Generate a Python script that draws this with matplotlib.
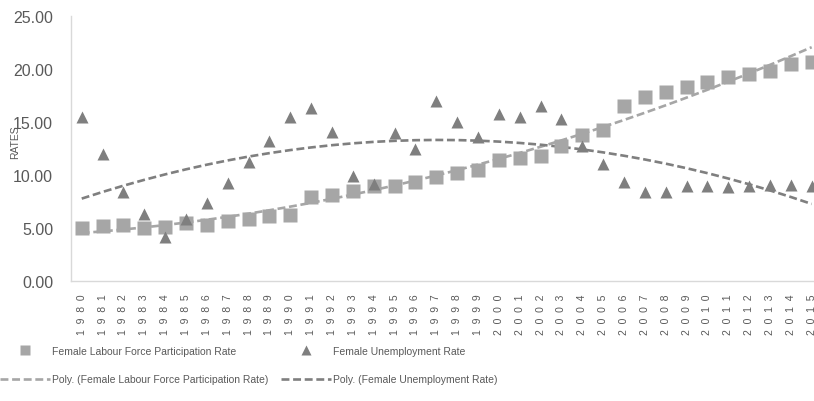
import numpy as np
import matplotlib
matplotlib.use("Agg")
import matplotlib.pyplot as plt
from matplotlib.lines import Line2D

plt.rcParams["font.family"] = ["Liberation Sans", "DejaVu Sans"]

YEARS = list(range(1980, 2016))
LABOUR_RATE = [5.0, 5.2, 5.3, 5.0, 5.1, 5.4, 5.3, 5.6, 5.8, 6.1,
               6.2, 7.9, 8.1, 8.5, 8.9, 8.9, 9.3, 9.8, 10.2, 10.4,
               11.4, 11.6, 11.8, 12.7, 13.7, 14.2, 16.5, 17.3, 17.8, 18.3,
               18.7, 19.2, 19.5, 19.8, 20.4, 20.6]
UNEMP_RATE = [15.4, 12.0, 8.4, 6.3, 4.1, 5.8, 7.3, 9.2, 11.2, 13.2,
              15.4, 16.3, 14.0, 9.9, 9.1, 13.9, 12.4, 17.0, 15.0, 13.6,
              15.7, 15.4, 16.5, 15.3, 12.7, 11.0, 9.3, 8.4, 8.4, 8.9,
              8.9, 8.8, 8.9, 9.0, 9.0, 8.9]
Y_TICKS = [0, 5, 10, 15, 20, 25]

LABOUR_NAME = "Female Labour Force Participation Rate"
UNEMP_NAME = "Female Unemployment Rate"

LIGHT = "#a6a6a6"
DARK = "#7f7f7f"
TEXT = "#595959"
DASH = (0, (3.0, 1.4))


def poly_trend(x, y, order=2):
    coef = np.polyfit(x, y, order)
    return np.polyval(coef, x)


def main():
    fig = plt.figure(figsize=(8.14, 4.02), dpi=100)
    W, H = 814, 402
    left, right, top, bottom = 71.3, 822.1, 16.7, 281.7
    ax = fig.add_axes([left / W, 1 - bottom / H, (right - left) / W, (bottom - top) / H])

    x = np.arange(len(YEARS))
    ax.plot(x, poly_trend(x, LABOUR_RATE), color=LIGHT, lw=1.9, ls=DASH, zorder=2)
    ax.plot(x, poly_trend(x, UNEMP_RATE), color=DARK, lw=1.9, ls=DASH, zorder=2)
    ax.plot(x, LABOUR_RATE, ls="none", marker="s", ms=9.5, color=LIGHT, mec="none", zorder=3)
    ax.plot(x, UNEMP_RATE, ls="none", marker="^", ms=9, color=DARK, mec="none", zorder=3)

    ax.set_xlim(-0.5, len(YEARS) - 0.5)
    ax.set_ylim(0, 25)
    ax.set_yticks(Y_TICKS)
    ax.set_yticklabels([f"{v:.2f}" for v in Y_TICKS], fontsize=11.5, color=TEXT)
    ax.set_xticks(x)
    ax.set_xticklabels(["  ".join(str(yr)) for yr in YEARS], rotation=90,
                       fontsize=7.5, color=TEXT)
    ax.tick_params(axis="y", length=0, pad=13)
    ax.tick_params(axis="x", length=0, pad=9)

    for side in ("top", "right"):
        ax.spines[side].set_visible(False)
    for side in ("left", "bottom"):
        ax.spines[side].set_color("#d9d9d9")
        ax.spines[side].set_linewidth(1.0)

    fig.text(15 / W, 1 - 142 / H, "RATES", rotation=90, ha="center", va="center",
             fontsize=7.5, color=TEXT)

    handles = [
        Line2D([], [], ls="none", marker="s", ms=7, color=LIGHT, mec="none"),
        Line2D([], [], color=LIGHT, lw=1.9, ls=DASH),
        Line2D([], [], ls="none", marker="^", ms=7, color=DARK, mec="none"),
        Line2D([], [], color=DARK, lw=1.9, ls=DASH),
    ]
    labels = [LABOUR_NAME, "Poly. (" + LABOUR_NAME + ")",
              UNEMP_NAME, "Poly. (" + UNEMP_NAME + ")"]
    fig.legend(handles, labels, loc="upper left", bbox_to_anchor=(0.0, 1 - 347 / H),
               ncol=2, frameon=False, fontsize=7.5, labelcolor=TEXT,
               handlelength=4.8, handletextpad=0.2, columnspacing=1.2,
               labelspacing=1.75, borderpad=0, borderaxespad=0)

    fig.savefig("out.png", dpi=100)
    plt.close(fig)


if __name__ == "__main__":
    main()
